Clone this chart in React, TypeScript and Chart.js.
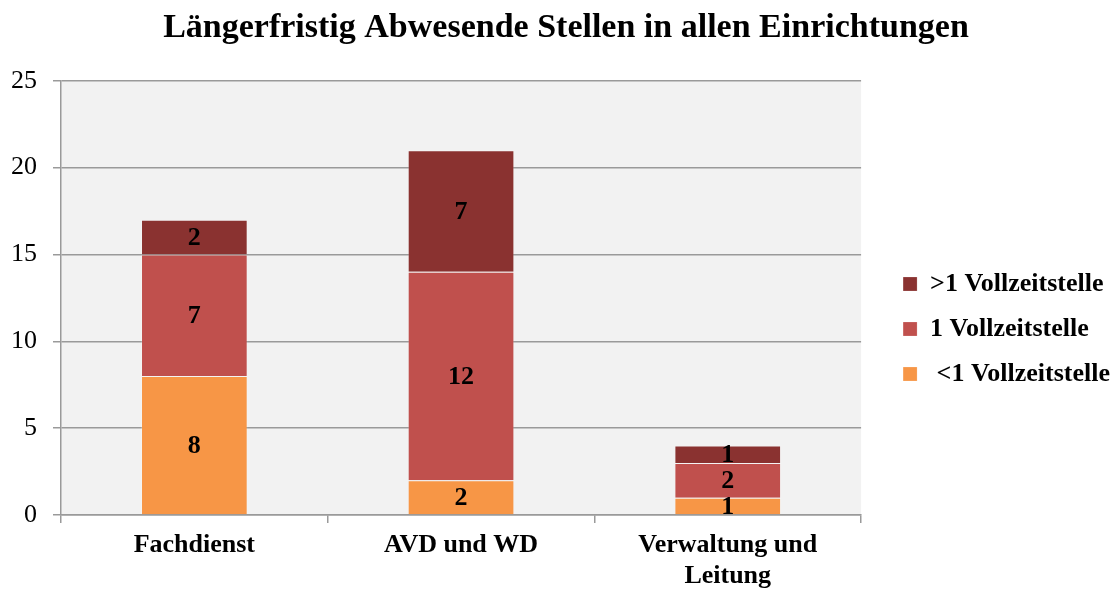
import React, { useEffect, useRef } from "react";
import { Chart, registerables } from "chart.js";

Chart.register(...registerables);

const categories: (string | string[])[] = ["Fachdienst", "AVD und WD", ["Verwaltung und", "Leitung"]];
const lessThanOne = [8, 2, 1];
const oneFull = [7, 12, 2];
const moreThanOne = [2, 7, 1];
const seriesLabels = [" <1 Vollzeitstelle", "1 Vollzeitstelle", ">1 Vollzeitstelle"];
const seriesColors = ["#F79646", "#C0504D", "#8A3230"];
const titleText = "Längerfristig Abwesende Stellen in allen Einrichtungen";

const FONT = "'Liberation Serif', 'Times New Roman', serif";

const plotBackground = {
  id: "plotBackground",
  beforeDraw(chart: any) {
    const { ctx, chartArea } = chart;
    if (!chartArea) return;
    ctx.save();
    ctx.fillStyle = "#F2F2F2";
    ctx.fillRect(chartArea.left, chartArea.top, chartArea.right - chartArea.left, chartArea.bottom - chartArea.top);
    ctx.restore();
  },
};

const boxShift = {
  id: "boxShift",
  afterLayout(chart: any) {
    const l = chart.legend;
    if (l) {
      l.left += 23;
      l.right += 23;
    }
    const t = chart.titleBlock;
    if (t) {
      t.left += 11.5;
      t.right += 11.5;
    }
  },
};

const segmentLabels = {
  id: "segmentLabels",
  afterDatasetsDraw(chart: any) {
    const { ctx } = chart;
    ctx.save();
    ctx.font = `bold 26px ${FONT}`;
    ctx.fillStyle = "#000";
    ctx.textAlign = "center";
    ctx.textBaseline = "middle";
    chart.data.datasets.forEach((ds: any, i: number) => {
      const meta = chart.getDatasetMeta(i);
      meta.data.forEach((el: any, j: number) => {
        const v = ds.data[j];
        if (!v) return;
        const y = (el.y + el.base) / 2;
        ctx.fillText(String(v), el.x, y + 1);
      });
    });
    ctx.restore();
  },
};

export default function App() {
  const ref = useRef<HTMLCanvasElement | null>(null);

  useEffect(() => {
    if (!ref.current) return;
    const gridColor = "#9A9A9A";
    const chart = new Chart(ref.current, {
      type: "bar",
      data: {
        labels: categories,
        datasets: [
          { label: seriesLabels[0], data: lessThanOne, backgroundColor: seriesColors[0], stack: "s" },
          { label: seriesLabels[1], data: oneFull, backgroundColor: seriesColors[1], stack: "s" },
          { label: seriesLabels[2], data: moreThanOne, backgroundColor: seriesColors[2], stack: "s" },
        ],
      },
      options: {
        responsive: false,
        animation: false,
        devicePixelRatio: 1,
        layout: { padding: { left: 12, right: 14, top: 0, bottom: 0 } },
        datasets: {
          bar: {
            categoryPercentage: 1,
            barPercentage: 0.4,
            borderWidth: 1,
            borderColor: "rgba(255,255,255,0.18)",
          },
        },
        plugins: {
          title: {
            display: true,
            text: titleText,
            color: "#000",
            font: { family: FONT, size: 34, weight: "bold" },
            padding: { top: 8, bottom: 32 },
          },
          legend: {
            position: "right",
            reverse: true,
            title: {
              display: true,
              text: " ",
              color: "rgba(0,0,0,0)",
              font: { family: FONT, size: 10 },
              padding: { top: 28, bottom: 28 },
            },
            labels: {
              color: "#000",
              font: { family: FONT, size: 26, weight: "bold" },
              boxWidth: 14,
              boxHeight: 14,
              padding: 19,
            },
          },
          tooltip: { enabled: false },
        },
        scales: {
          x: {
            stacked: true,
            afterFit: (s: any) => {
              s.height = 75;
            },
            grid: {
              display: true,
              offset: true,
              drawOnChartArea: false,
              drawTicks: true,
              tickLength: 8,
              color: gridColor,
              lineWidth: 1.5,
            },
            border: { display: true, color: gridColor, width: 1.5 },
            ticks: {
              color: "#000",
              font: { family: FONT, size: 26, weight: "bold", lineHeight: 1.19 },
              padding: 7,
              maxRotation: 0,
              autoSkip: false,
            },
          },
          y: {
            stacked: true,
            min: 0,
            max: 25,
            afterFit: (s: any) => {
              s.width = 49;
            },
            grid: { color: gridColor, lineWidth: 1.5, tickLength: 8 },
            border: { display: true, color: gridColor, width: 1.5 },
            ticks: {
              stepSize: 5,
              color: "#000",
              font: { family: FONT, size: 26 },
              padding: 16,
            },
          },
        },
      },
      plugins: [plotBackground, segmentLabels, boxShift],
    });
    return () => chart.destroy();
  }, []);

  return (
    <div style={{ position: "absolute", left: 0, top: 0, width: 1111, height: 590, background: "#fff" }}>
      <canvas ref={ref} width={1111} height={590} />
    </div>
  );
}
